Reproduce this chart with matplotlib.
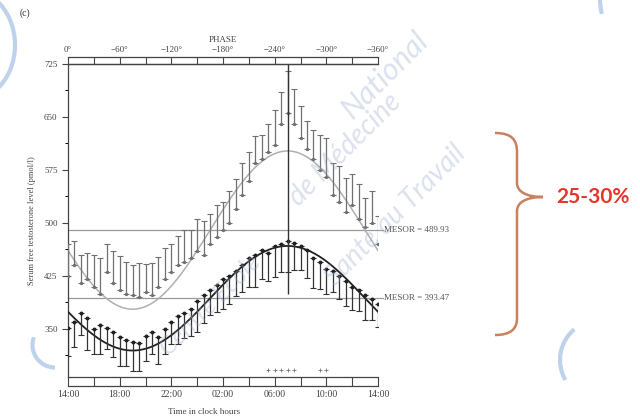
import numpy as np
import matplotlib.pyplot as plt
from matplotlib.patches import PathPatch, Arc
from matplotlib.path import Path

plt.rcParams['font.family'] = ['Liberation Serif', 'DejaVu Serif']

# sampling times, hours elapsed since 14:00
hours = np.arange(0, 24.5, 0.5)

# young men: mean and +SE (pmol/l)
young_mean = [425, 440, 415, 420, 410, 400, 430, 415, 405, 400, 398, 395, 402,
              398, 410, 420, 430, 440, 445, 450, 460, 455, 470, 480, 490, 500,
              520, 540, 560, 585, 590, 600, 610, 640, 655, 640, 620, 605, 590,
              575, 565, 540, 530, 515, 525, 505, 495, 500, 470]
young_se = [45, 35, 40, 38, 45, 50, 40, 45, 48, 45, 42, 48, 40, 45, 42, 45, 40,
            42, 45, 40, 45, 48, 42, 45, 40, 45, 42, 45, 40, 38, 35, 40, 50, 45,
            60, 50, 45, 40, 42, 50, 55, 45, 50, 48, 45, 50, 40, 45, 40]

# elderly men: mean and -SE (pmol/l)
old_mean = [352, 360, 372, 365, 350, 355, 352, 345, 338, 335, 332, 330, 340,
            345, 338, 350, 360, 368, 372, 378, 390, 398, 405, 412, 420, 425,
            432, 440, 450, 455, 462, 458, 468, 470, 475, 472, 468, 462, 450,
            445, 435, 432, 425, 418, 410, 405, 398, 392, 385]
old_se = [40, 35, 30, 45, 35, 40, 30, 35, 40, 38, 42, 40, 35, 30, 38, 35, 32,
          40, 35, 38, 45, 40, 35, 38, 42, 40, 35, 38, 40, 45, 42, 40, 45, 40,
          45, 38, 35, 40, 42, 38, 35, 30, 32, 35, 33, 30, 35, 30, 32]

# cosinor fits
mesor_young = 489.93
mesor_old = 393.47
amp_young = 112
amp_old = 74
acrophase_h = 17.0     # 07:00
acro_line_low = 400

sig_hours = [15.5, 16.0, 16.5, 17.0, 17.5, 19.5, 20.0]
sig_level = 292

clock_labels = ["14:00", "18:00", "22:00", "02:00", "06:00", "10:00", "14:00"]
phase_labels = ["0°", "−60°", "−120°", "−180°", "−240°", "−300°", "−360°"]
y_ticks = [350, 425, 500, 575, 650, 725]

fig = plt.figure(figsize=(6.4, 4.2), dpi=100)
ax = fig.add_axes([68 / 640, 1 - 377 / 420, 310 / 640, 313 / 420])

tt = np.linspace(0, 24, 300)
fit_young = mesor_young + amp_young * np.cos(2 * np.pi * (tt - acrophase_h) / 24)
fit_old = mesor_old + amp_old * np.cos(2 * np.pi * (tt - acrophase_h) / 24)

ax.plot(tt, fit_young, color='#b0b0b0', lw=1.1, zorder=2)
ax.plot(tt, fit_old, color='#222222', lw=1.3, zorder=3)

zeros = np.zeros(len(hours))
ax.errorbar(hours, young_mean, yerr=[zeros, young_se], fmt='o', ms=1.4,
            color='#707070', ecolor='#707070', elinewidth=0.9, capsize=2,
            capthick=0.8, zorder=4)
ax.errorbar(hours, old_mean, yerr=[old_se, zeros], fmt='o', ms=1.8,
            color='#222222', ecolor='#333333', elinewidth=0.9, capsize=2,
            capthick=0.8, zorder=4)

# MESOR lines
for m in (mesor_young, mesor_old):
    ax.plot([0, 24.4], [m, m], color='#9a9a9a', lw=0.9, clip_on=False, zorder=1)
ax.text(24.5, mesor_young, f"MESOR = {mesor_young:.2f}", fontsize=6.5,
        va='center', ha='left', color='#555555')
ax.text(24.5, mesor_old, f"MESOR = {mesor_old:.2f}", fontsize=6.5,
        va='center', ha='left', color='#555555')

# acrophase marker
ax.vlines(acrophase_h, acro_line_low, 725, color='#333333', lw=1.0, zorder=5)

ax.plot(sig_hours, [sig_level] * len(sig_hours), '+', color='#777777', ms=3, mew=0.6)

ax.set_xlim(0, 24)
ax.set_ylim(282, 725)
ax.set_xticks(np.arange(0, 25, 2))
ax.set_xticklabels([clock_labels[i // 2] if i % 2 == 0 else "" for i in range(13)])
ax.set_yticks(y_ticks)
ax.set_yticks(np.arange(312.5, 725, 75), minor=True)
ax.tick_params(axis='y', labelsize=6.5, length=4, width=0.8, colors='#444444')
ax.tick_params(axis='y', which='minor', length=2.5, width=0.7)
ax.tick_params(axis='x', direction='out', length=6.5, width=0.8,
               labelsize=7, pad=3, colors='#444444')
ax.spines['right'].set_visible(False)
for s in ('left', 'bottom', 'top'):
    ax.spines[s].set_color('#444444')
    ax.spines[s].set_linewidth(0.9)

# phase scale on top
top = ax.twiny()
top.set_xlim(0, 24)
top.set_xticks(np.arange(0, 25, 2))
top.set_xticklabels([phase_labels[i // 2] if i % 2 == 0 else "" for i in range(13)])
top.tick_params(axis='x', direction='out', length=5, width=0.8, labelsize=6.5,
                pad=2, colors='#444444')
for s in ('right', 'left', 'bottom'):
    top.spines[s].set_visible(False)
top.spines['top'].set_color('#444444')
top.spines['top'].set_linewidth(0.9)
top.set_xlabel("PHASE", fontsize=6.5, labelpad=3, color='#444444')

# outer lines closing the tick strips
ax.plot([0, 24], [1 + 7 / 313] * 2, transform=ax.get_xaxis_transform(),
        color='#444444', lw=0.9, clip_on=False)
ax.plot([0, 24], [-9 / 313] * 2, transform=ax.get_xaxis_transform(),
        color='#444444', lw=0.9, clip_on=False)

ax.set_ylabel("Serum free testosterone level (pmol/l)", fontsize=6, color='#444444',
              labelpad=6)
ax.text(10.5, -0.1, "Time in clock hours", transform=ax.get_xaxis_transform(),
        fontsize=6.5, ha='center', va='top', color='#444444')
fig.text(20 / 640, 1 - 16 / 420, "(c)", fontsize=7, color='#333333')

# overlay in pixel coordinates: brace, percentage, watermark
ov = fig.add_axes([0, 0, 1, 1], facecolor='none')
ov.set_xlim(0, 640)
ov.set_ylim(420, 0)
ov.axis('off')

verts = [(495, 133), (512, 133), (517, 140), (517, 152),
         (517, 183),
         (517, 192), (527, 197), (543, 197),
         (527, 197), (517, 202), (517, 211),
         (517, 318),
         (517, 328), (512, 335), (495, 335)]
codes = [Path.MOVETO] + [Path.CURVE4] * 3 + [Path.LINETO] + [Path.CURVE4] * 6 + \
        [Path.LINETO] + [Path.CURVE4] * 3
ov.add_patch(PathPatch(Path(verts, codes), fill=False, ec='#c9805c', lw=1.8))
ov.text(556, 197, "25-30%", fontsize=15, fontweight='bold', color='#e8352c',
        family=['Lato', 'DejaVu Sans'], va='center', ha='left')

wm = dict(color='#9aabcb', alpha=0.35, family=['Lato', 'DejaVu Sans'],
          ha='center', va='center', rotation=45, fontstyle='italic')
ov.text(385, 75, "National", fontsize=22, **wm)
ov.text(345, 150, "de Médecine", fontsize=20, **wm)
ov.text(395, 215, "Santé au Travail", fontsize=20, **wm)
ov.text(210, 305, "Centre Ecole", fontsize=18, **wm)

arc_kw = dict(color='#7fa6d8', lw=3, alpha=0.5)
ov.add_patch(Arc((-30, 45), 90, 110, theta1=-60, theta2=60, **arc_kw))
ov.add_patch(Arc((55, 345), 45, 45, theta1=90, theta2=200, **arc_kw))
ov.add_patch(Arc((640, 0), 80, 90, theta1=160, theta2=250, **arc_kw))
ov.add_patch(Arc((600, 360), 80, 80, theta1=150, theta2=230, **arc_kw))

fig.savefig("out.png", dpi=100)
